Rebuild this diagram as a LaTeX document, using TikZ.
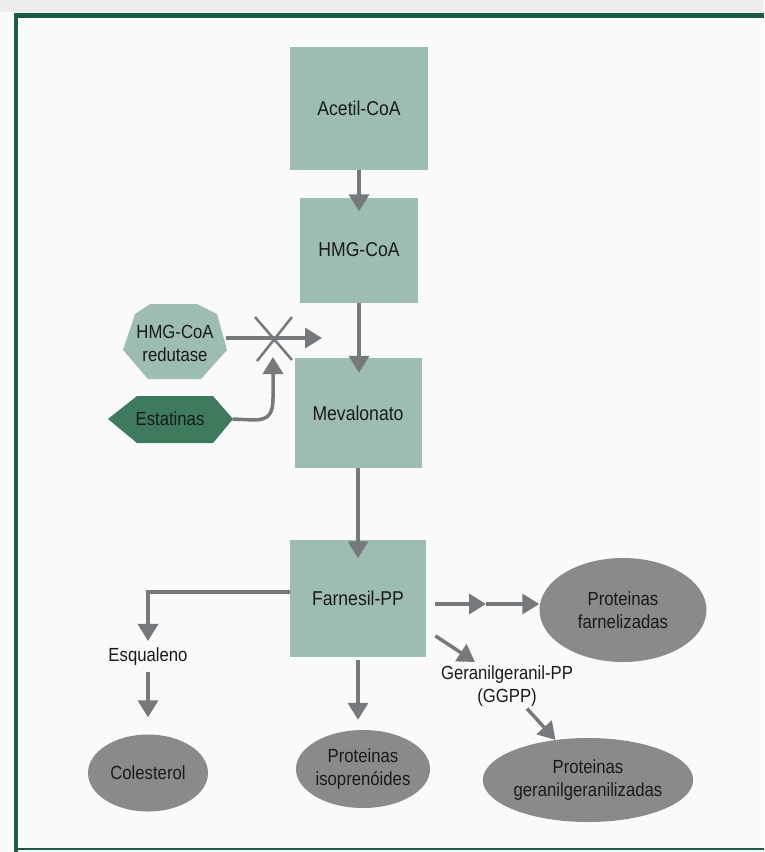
\documentclass[tikz,border=0pt]{standalone}
\usepackage{fontspec}
\setmainfont[FakeStretch=0.88]{Liberation Sans}
\usetikzlibrary{arrows.meta,shapes.geometric}
\definecolor{boxfill}{HTML}{9DBDB1}
\definecolor{ellfill}{HTML}{8A8A8A}
\definecolor{arrcol}{HTML}{76797B}
\definecolor{statcol}{HTML}{3D7A5E}
\definecolor{framecol}{HTML}{1D5C45}
\definecolor{txtcol}{HTML}{1A1A1A}
\begin{document}
\begin{tikzpicture}[x=1pt,y=-1pt,
  every node/.style={text=txtcol, font=\fontsize{19}{23}\selectfont},
  box/.style={fill=boxfill, draw=none, inner sep=0pt, font=\fontsize{20}{24}\selectfont},
  ell/.style={ellipse, fill=ellfill, draw=none, inner sep=0pt, align=center},
  lbl/.style={inner sep=2pt, align=center},
  arr/.style={draw=arrcol, line width=3.5pt, -{Triangle[length=17pt,width=20pt]}},
  plain/.style={draw=arrcol, line width=3.5pt}]
% background and frame
\useasboundingbox (0,0) rectangle (764,852);
\fill[white!98!black] (0,0) rectangle (764,852);
\fill[white!93!black] (0,0) rectangle (764,12);
\fill[framecol] (14,13) rectangle (764,18);
\fill[framecol] (14,13) rectangle (18,852);
\fill[framecol] (14,848) rectangle (764,850);

% main boxes
\node[box, minimum width=138pt, minimum height=123pt] (acetil) at (359,108) {Acetil-CoA};
\node[box, minimum width=118pt, minimum height=105pt] (hmg) at (359,250) {HMG-CoA};
\node[box, minimum width=127pt, minimum height=110pt] (mev) at (358,413) {Mevalonato};
\node[box, minimum width=136pt, minimum height=117pt] (farn) at (358,598) {Farnesil-PP};

% HMG-CoA redutase (polygon)
\fill[boxfill] (135,314) -- (150,304) -- (197,304) -- (217,314) -- (227,350) -- (201,379) -- (148,379) -- (123,350) -- cycle;
\node[lbl, inner sep=0pt, minimum width=102pt, minimum height=72pt] (red) at (175,343) {HMG-CoA\\redutase};

% Estatinas (hexagon)
\fill[statcol] (108,419) -- (137,396) -- (213,396) -- (233,419) -- (213,443) -- (137,443) -- cycle;
\node[lbl, inner sep=0pt, minimum width=125pt, minimum height=47pt] (est) at (170,419) {Estatinas};

% ellipses
\node[ell, minimum width=167pt, minimum height=104pt] (farnel) at (623,610) {Proteinas\\farnelizadas};
\node[ell, minimum width=120pt, minimum height=77pt] (col) at (148,773) {Colesterol};
\node[ell, minimum width=130pt, minimum height=78pt] (iso) at (363,769) {Proteinas\\isoprenóides};
\node[ell, minimum width=183pt, minimum height=84pt] (ggz) at (588,780) {Proteinas\\geranilgeranilizadas};

% labels
\node[lbl] (esq) at (148,657) {Esqualeno};
\node[lbl] (gg) at (507,686) {Geranilgeranil-PP\\(GGPP)};

% coordinates
\coordinate (xc) at (273,338);
\coordinate (xend) at (322,338);
\coordinate (mid) at (486,604);
\coordinate (gtip) at (475,662);

% main chain
\draw[arr, shorten >=-14pt] (acetil) -- (acetil |- hmg.north);
\draw[arr, shorten >=-15pt] (hmg) -- (hmg |- mev.north);
\draw[arr, shorten >=-19pt] (mev) -- (mev |- farn.north);

% inhibition
\draw[arr] (red.east |- xc) -- (xend);
\draw[plain, line width=2.5pt] (255,317) -- (292,360);
\draw[plain, line width=2.5pt] (292,317) -- (257,361);
\draw[arr] (est.east) -- (254,420) .. controls (270,420) and (273,412) .. (273,398) -- ([yshift=-19pt]xc);

% branches
\draw[arr, shorten >=5pt] ([yshift=6pt]farn.west) -| (esq.north);
\draw[arr, shorten <=4pt, shorten >=17pt] (esq.south) -- (col.north);
\draw[arr, shorten <=3pt, shorten >=10pt] (farn.south) -- (farn.south |- iso.north);
\draw[arr] ([xshift=9pt]farn.east |- mid) -- (mid);
\draw[arr] (mid) -- (mid -| farnel.west);
\draw[arr, shorten <=11pt] (farn.-25) -- (gtip);
\draw[arr] ([xshift=20pt]gg.south) -- (ggz.129);
\end{tikzpicture}
\end{document}
